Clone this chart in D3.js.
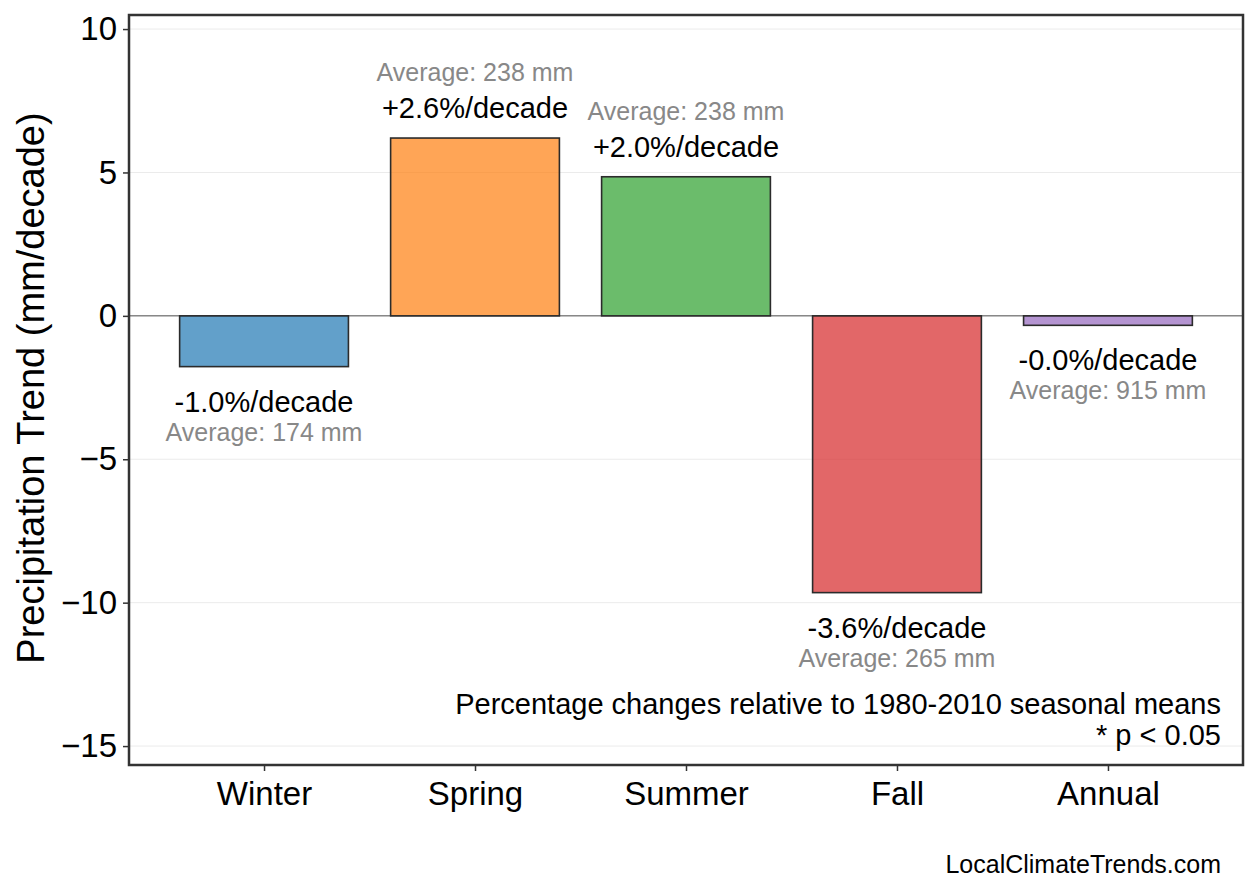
<!DOCTYPE html>
<html>
<head>
<meta charset="utf-8">
<script src="https://cdn.jsdelivr.net/npm/d3@7"></script>
<style>
  body { margin: 0; background: #fff; }
  svg { font-family: "Liberation Sans", Arial, sans-serif; }
</style>
</head>
<body>
<div class="svg"></div>
<script>
var seasons = ["Winter", "Spring", "Summer", "Fall", "Annual"];
var trends = [-1.77, 6.2, 4.85, -9.65, -0.33];
var pctLabels = ["-1.0%/decade", "+2.6%/decade", "+2.0%/decade", "-3.6%/decade", "-0.0%/decade"];
var averages = [174, 238, 238, 265, 915];
var yTicks = [10, 5, 0, -5, -10, -15];
var barColors = ["#1f77b4", "#ff7f0e", "#2ca02c", "#d62728", "#9467bd"];

var W = 1258, H = 893;
var m = { left: 129, right: 1243, top: 15, bottom: 765 };

var svg = d3.select("div.svg").append("svg")
  .attr("width", W).attr("height", H);

var x = d3.scaleLinear().domain([-0.64, 4.64]).range([m.left, m.right]);
var y = d3.scaleLinear().domain([-15.66, 10.49]).range([m.bottom, m.top]);
var bw = x(0.4) - x(-0.4);

// grid
svg.append("g").selectAll("line")
  .data(yTicks)
  .enter().append("line")
  .attr("x1", m.left).attr("x2", m.right)
  .attr("y1", function (d) { return y(d); })
  .attr("y2", function (d) { return y(d); })
  .attr("stroke", "#ebebeb").attr("stroke-width", 1);

// zero line
svg.append("line")
  .attr("x1", m.left).attr("x2", m.right)
  .attr("y1", y(0)).attr("y2", y(0))
  .attr("stroke", "#888").attr("stroke-width", 1.5);

// bars
svg.append("g").selectAll("rect")
  .data(trends)
  .enter().append("rect")
  .attr("x", function (d, i) { return x(i) - bw / 2; })
  .attr("y", function (d) { return y(Math.max(0, d)); })
  .attr("width", bw)
  .attr("height", function (d) { return Math.abs(y(d) - y(0)); })
  .attr("fill", function (d, i) { return barColors[i]; })
  .attr("fill-opacity", 0.7)
  .attr("stroke", "#2b2b2b")
  .attr("stroke-width", 1.6);

// labels
var lab = svg.append("g").selectAll("g")
  .data(trends)
  .enter().append("g");

lab.append("text")
  .attr("x", function (d, i) { return x(i); })
  .attr("y", function (d) { return d >= 0 ? y(d) - 20 : y(d) + 45; })
  .attr("text-anchor", "middle")
  .attr("font-size", 29)
  .attr("fill", "#000")
  .text(function (d, i) { return pctLabels[i]; });

lab.append("text")
  .attr("x", function (d, i) { return x(i); })
  .attr("y", function (d) { return d >= 0 ? y(d) - 57 : y(d) + 74; })
  .attr("text-anchor", "middle")
  .attr("font-size", 25)
  .attr("fill", "#888")
  .text(function (d, i) { return "Average: " + averages[i] + " mm"; });

// axes
var yAxis = d3.axisLeft(y).tickValues(yTicks).tickSize(6)
  .tickFormat(function (d) { return d < 0 ? "\u2212" + Math.abs(d) : d; });
var gy = svg.append("g").attr("transform", "translate(" + m.left + ",0)").call(yAxis);
gy.select(".domain").remove();
gy.selectAll("line").attr("stroke", "#333").attr("stroke-width", 1.5);
gy.selectAll("text").attr("font-size", 33).attr("fill", "#000")
  .attr("font-family", "Liberation Sans, Arial, sans-serif").attr("dx", -3);

var xAxis = d3.axisBottom(x).tickValues(d3.range(seasons.length)).tickSize(6)
  .tickFormat(function (d) { return seasons[d]; });
var gx = svg.append("g").attr("transform", "translate(0," + m.bottom + ")").call(xAxis);
gx.select(".domain").remove();
gx.selectAll("line").attr("stroke", "#333").attr("stroke-width", 1.5);
gx.selectAll("text").attr("font-size", 33).attr("fill", "#000")
  .attr("font-family", "Liberation Sans, Arial, sans-serif").attr("dy", "0.95em");

// frame
svg.append("rect")
  .attr("x", m.left).attr("y", m.top)
  .attr("width", m.right - m.left).attr("height", m.bottom - m.top)
  .attr("fill", "none").attr("stroke", "#333").attr("stroke-width", 2.5);

// y label
svg.append("text")
  .attr("transform", "translate(44,388) rotate(-90)")
  .attr("text-anchor", "middle")
  .attr("font-size", 38)
  .attr("fill", "#000")
  .text("Precipitation Trend (mm/decade)");

// note
svg.append("text")
  .attr("x", 1221).attr("y", 714)
  .attr("text-anchor", "end").attr("font-size", 29)
  .text("Percentage changes relative to 1980-2010 seasonal means");
svg.append("text")
  .attr("x", 1221).attr("y", 745)
  .attr("text-anchor", "end").attr("font-size", 29)
  .text("* p < 0.05");

svg.append("text")
  .attr("x", 1221).attr("y", 873)
  .attr("text-anchor", "end").attr("font-size", 25)
  .text("LocalClimateTrends.com");
</script>
</body>
</html>
